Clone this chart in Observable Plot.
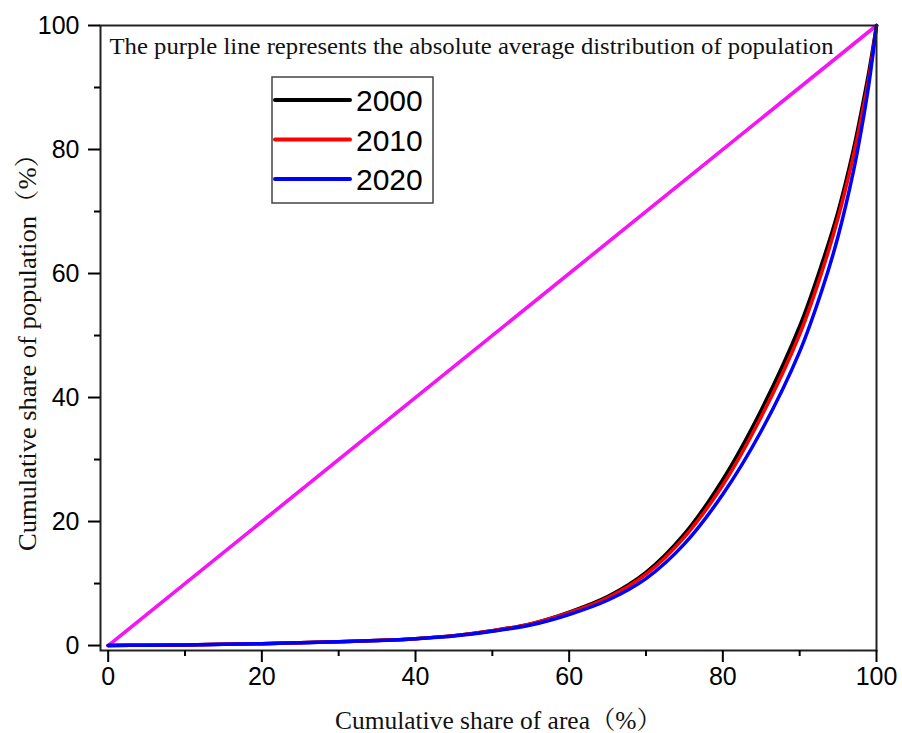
<!DOCTYPE html>
<html>
<head>
<meta charset="utf-8">
<script src="https://cdn.jsdelivr.net/npm/d3@7"></script>
<script src="https://cdn.jsdelivr.net/npm/@observablehq/plot@0.6"></script>
<style>
  html, body { margin: 0; padding: 0; background: #fff; }
  #chart { position: relative; width: 902px; height: 733px; }
</style>
</head>
<body>
<div id="chart"></div>
<script>
// ---- data ----
const shareArea = [0, 5, 10, 15, 20, 25, 30, 35, 40, 45, 50, 55, 60, 65, 70, 75, 80, 85, 90, 93, 95, 97, 98, 99, 100];
const pop2000 = [0, 0.05, 0.1, 0.2, 0.3, 0.45, 0.6, 0.8, 1.1, 1.6, 2.4, 3.5, 5.4, 7.9, 11.8, 18.0, 26.8, 38.0, 51.5, 62.0, 70.0, 80.0, 86.0, 92.5, 100];
const pop2010 = [0, 0.05, 0.1, 0.2, 0.3, 0.45, 0.6, 0.8, 1.1, 1.6, 2.4, 3.5, 5.3, 7.7, 11.5, 17.5, 25.9, 36.9, 50.2, 60.7, 69.0, 79.0, 85.0, 91.5, 100];
const pop2020 = [0, 0.05, 0.1, 0.2, 0.3, 0.45, 0.6, 0.8, 1.1, 1.55, 2.3, 3.3, 5.0, 7.3, 10.8, 16.4, 24.4, 34.6, 47.4, 57.7, 66.0, 76.5, 83.0, 90.5, 100];
const years = ["2000", "2010", "2020"];
const yearColors = ["#000000", "#ff0000", "#0000ff"];
const equalityX = [0, 100];
const equalityY = [0, 100];
const majorTicks = [0, 20, 40, 60, 80, 100];
const minorTicks = [10, 30, 50, 70, 90];
const xTitle = "Cumulative share of area（%）";
const yTitle = "Cumulative share of population（%）";
const note = "The purple line represents the absolute average distribution of population";

// ---- build tables ----
const seriesVals = [pop2000, pop2010, pop2020];
const curves = [];
years.forEach((yr, i) => shareArea.forEach((x, j) => curves.push({year: yr, x, y: seriesVals[i][j]})));
const equality = equalityX.map((x, i) => ({x, y: equalityY[i]}));

const serif = "'Liberation Serif', 'Times New Roman', 'Noto Serif CJK SC', 'Noto Sans CJK SC', serif";

const plot = Plot.plot({
  width: 902,
  height: 733,
  marginLeft: 100,
  marginRight: 26,
  marginTop: 25,
  marginBottom: 83,
  style: {fontFamily: "'Liberation Sans', Arial, sans-serif", fontSize: "25px", color: "#000", background: "#fff"},
  x: {domain: [-1, 100]},
  y: {domain: [-0.8, 100]},
  color: {domain: years, range: yearColors},
  marks: [
    Plot.line(equality, {x: "x", y: "y", stroke: "#f614f6", strokeWidth: 3.6}),
    Plot.line(curves, {x: "x", y: "y", z: "year", stroke: "year", strokeWidth: 3.5, curve: "catmull-rom"}),
    Plot.frame({stroke: "#222", strokeWidth: 2}),
    Plot.axisX({ticks: majorTicks, tickSize: 12, tickPadding: 5, strokeWidth: 2, label: null, fontSize: 25}),
    Plot.axisX({ticks: minorTicks, tickSize: 6, strokeWidth: 2, tickFormat: () => "", label: null}),
    Plot.axisY({ticks: majorTicks, tickSize: 12, tickPadding: 9, strokeWidth: 2, label: null, fontSize: 25}),
    Plot.axisY({ticks: minorTicks, tickSize: 6, strokeWidth: 2, tickFormat: () => "", label: null}),
    Plot.text([note], {text: d => d, frameAnchor: "top-left", textAnchor: "start", lineAnchor: "top", dx: 9, dy: 11, fontSize: 24, fontFamily: serif, fill: "#111", className: "note"}),
    Plot.text([xTitle], {text: d => d, frameAnchor: "bottom", textAnchor: "middle", lineAnchor: "middle", dx: 10, dy: 70, fontSize: 25, fontFamily: serif, fill: "#111", className: "xtitle"}),
    Plot.text([yTitle], {text: d => d, frameAnchor: "left", textAnchor: "middle", lineAnchor: "middle", rotate: -90, dx: -73, dy: 8, fontSize: 25, fontFamily: serif, fill: "#111", className: "ytitle"})
  ]
});

document.getElementById("chart").appendChild(plot);

// stretch serif texts to the reference widths
const svg = d3.select(plot);
svg.selectAll(".note text").attr("textLength", 724).attr("lengthAdjust", "spacingAndGlyphs");
svg.selectAll(".xtitle text").attr("textLength", 327).attr("lengthAdjust", "spacingAndGlyphs");
svg.selectAll(".ytitle text").attr("textLength", 410).attr("lengthAdjust", "spacingAndGlyphs");

// legend box
const lg = svg.append("g").attr("class", "legend");
lg.append("rect").attr("x", 272).attr("y", 77).attr("width", 161).attr("height", 126)
  .attr("fill", "#fff").attr("stroke", "#444").attr("stroke-width", 1.5);
years.forEach((yr, i) => {
  const ly = 100 + i * 39.5;
  lg.append("line").attr("x1", 275).attr("x2", 350).attr("y1", ly).attr("y2", ly)
    .attr("stroke", yearColors[i]).attr("stroke-width", 4).attr("stroke-linecap", "round");
  lg.append("text").attr("x", 356).attr("y", ly + 11).text(yr)
    .attr("text-anchor", "start")
    .attr("font-family", "'Liberation Sans', Arial, sans-serif").attr("font-size", 30).attr("fill", "#000");
});
</script>
</body>
</html>
